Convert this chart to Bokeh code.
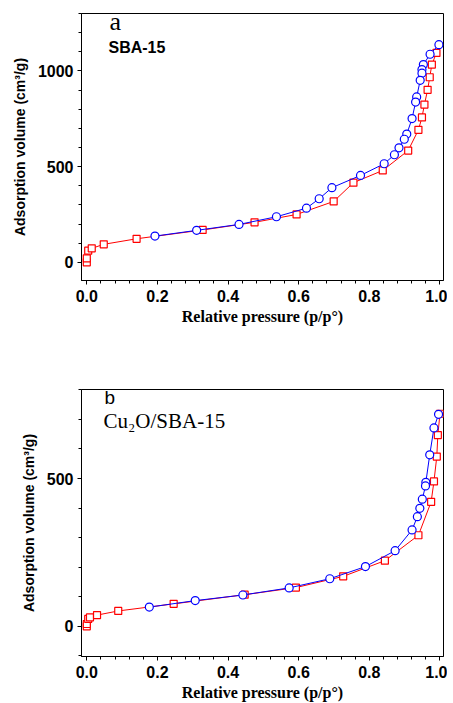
from bokeh.plotting import figure
from bokeh.layouts import column
from bokeh.models import Label, Range1d, SingleIntervalTicker, NumeralTickFormatter
from bokeh.embed import file_html
from bokeh.resources import INLINE

# Panel a: SBA-15
a_ads_x = [0.0, 0.0, 0.004, 0.014, 0.048, 0.141, 0.328, 0.475, 0.594, 0.699, 0.755, 0.838,
           0.910, 0.939, 0.949, 0.956, 0.965, 0.971, 0.977, 0.990]
a_ads_y = [0, 21, 61, 73, 94, 123, 169, 209, 250, 318, 416, 480,
           584, 692, 757, 824, 901, 967, 1033, 1094]
a_des_x = [0.997, 0.972, 0.953, 0.949, 0.949, 0.944, 0.934, 0.931, 0.921, 0.906, 0.899, 0.884,
           0.871, 0.842, 0.775, 0.694, 0.658, 0.622, 0.537, 0.431, 0.311, 0.193]
a_des_y = [1137, 1087, 1033, 1007, 988, 951, 864, 837, 751, 670, 643, 598,
           562, 515, 454, 390, 332, 283, 238, 198, 167, 137]

# Panel b: Cu2O/SBA-15
b_ads_x = [0.0, 0.0, 0.004, 0.009, 0.029, 0.089, 0.246, 0.447, 0.592, 0.726, 0.844,
           0.939, 0.975, 0.983, 0.991, 0.994, 1.0]
b_ads_y = [0, 8, 25, 30, 38, 52, 76, 107, 131, 169, 222, 308, 421, 490, 574, 647, 719]
b_des_x = [0.996, 0.983, 0.971, 0.960, 0.959, 0.950, 0.943, 0.936, 0.921, 0.873, 0.789,
           0.688, 0.573, 0.442, 0.307, 0.177]
b_des_y = [717, 671, 580, 487, 475, 430, 399, 371, 326, 256, 202, 161, 130, 106, 87, 65]

x_tick_step = 0.2
y_tick_step = 500


def make_panel(ads_x, ads_y, des_x, des_y, y_range, top, bottom):
    p = figure(frame_width=362, frame_height=267, output_backend="svg",
               toolbar_location=None, x_range=Range1d(-0.015, 1.01),
               y_range=Range1d(*y_range), min_border_left=81, min_border_right=4,
               min_border_top=top, min_border_bottom=bottom)
    p.grid.visible = False
    p.outline_line_color = "black"
    p.outline_line_width = 1
    p.background_fill_color = "white"
    p.border_fill_color = "white"

    p.xaxis.ticker = SingleIntervalTicker(interval=x_tick_step, num_minor_ticks=5)
    p.yaxis.ticker = SingleIntervalTicker(interval=y_tick_step, num_minor_ticks=5)
    p.xaxis.formatter = NumeralTickFormatter(format="0.0")
    for ax in (p.xaxis, p.yaxis):
        ax.axis_line_color = "black"
        ax.major_tick_line_color = "black"
        ax.minor_tick_line_color = "black"
        ax.major_tick_out = 4
        ax.major_tick_in = 0
        ax.minor_tick_out = 3
        ax.minor_tick_in = 0
        ax.major_label_text_font = "Liberation Sans"
        ax.major_label_text_font_style = "bold"
        ax.major_label_text_font_size = "16px"
        ax.major_label_text_color = "black"
        ax.axis_label_text_color = "black"
        ax.axis_label_text_font_style = "bold"
    p.xaxis.major_label_standoff = 5
    p.yaxis.major_label_standoff = 4
    p.xaxis.axis_label = "Relative pressure (p/p°)"
    p.xaxis.axis_label_text_font = "Liberation Serif"
    p.xaxis.axis_label_text_font_size = "16px"
    p.xaxis.axis_label_standoff = 3
    p.yaxis.axis_label = "Adsorption volume (cm³/g)"
    p.yaxis.axis_label_text_font = "Liberation Sans"
    p.yaxis.axis_label_text_font_size = "14px"
    p.yaxis.axis_label_standoff = 7

    p.line(ads_x, ads_y, line_color="red", line_width=1)
    p.scatter(ads_x, ads_y, marker="square", size=7, fill_color="white",
              line_color="red", line_width=1.2)
    p.line(des_x, des_y, line_color="blue", line_width=1)
    p.scatter(des_x, des_y, marker="circle", size=8, fill_color="white",
              line_color="blue", line_width=1.2)
    return p


pa = make_panel(a_ads_x, a_ads_y, a_des_x, a_des_y, (-95, 1300), 13, 60)
pa.add_layout(Label(x=28, y=245, x_units="screen", y_units="screen", text="a",
                    text_font="Liberation Serif", text_font_size="26px",
                    text_color="black"))
pa.add_layout(Label(x=27, y=225, x_units="screen", y_units="screen", text="SBA-15",
                    text_font="Liberation Sans", text_font_size="16px",
                    text_font_style="bold", text_color="black"))

pb = make_panel(b_ads_x, b_ads_y, b_des_x, b_des_y, (-102, 801), 49, 38)
pb.add_layout(Label(x=23, y=249, x_units="screen", y_units="screen", text="b",
                    text_font="Liberation Sans", text_font_size="19px",
                    text_color="black"))
pb.add_layout(Label(x=22, y=224, x_units="screen", y_units="screen", text="Cu₂O/SBA-15",
                    text_font="Liberation Serif", text_font_size="21px",
                    text_color="black"))

layout = column(pa, pb, spacing=0)
open("out.html", "w").write(file_html(layout, INLINE))
